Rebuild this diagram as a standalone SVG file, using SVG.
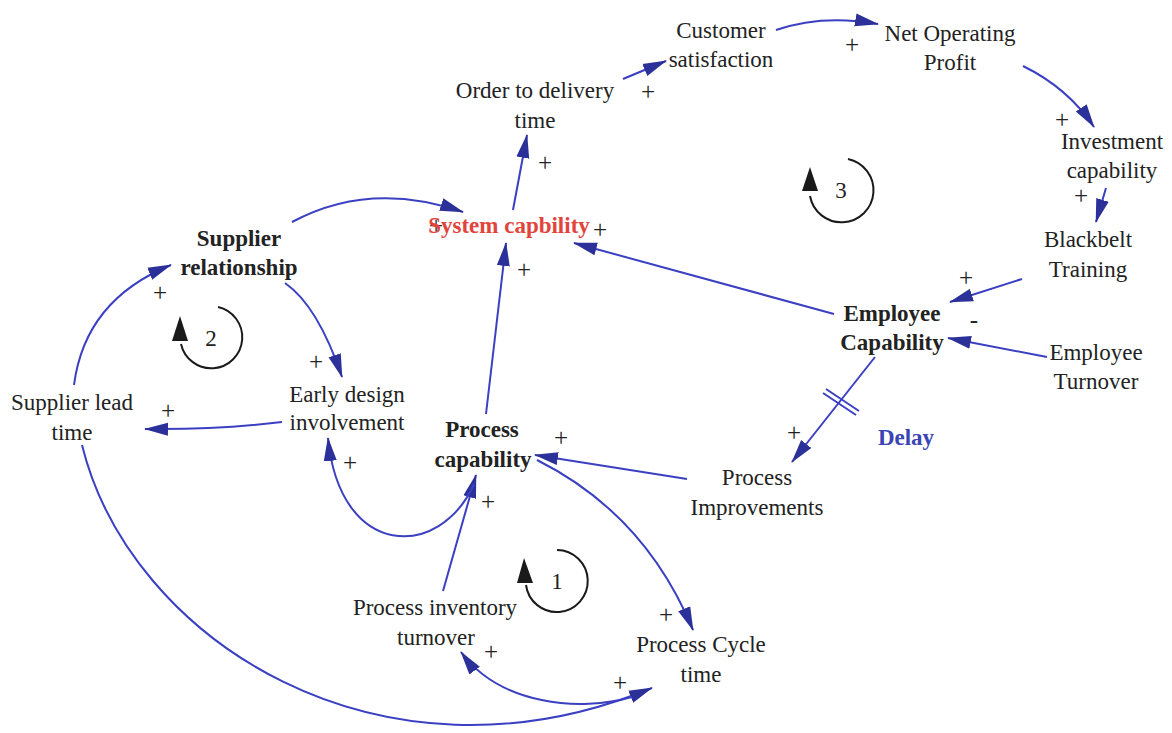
<svg xmlns="http://www.w3.org/2000/svg" width="1172" height="733" viewBox="0 0 1172 733">
  <style>
    .lbl { font-family: "Liberation Serif", "Times New Roman", serif; font-size: 23px; fill: #222; text-anchor: middle; }
    .b { font-weight: bold; }
    .red { fill: #e2443c; }
    .delay { fill: #3a44b4; }
    .pol { font-family: "Liberation Serif", "Times New Roman", serif; font-size: 25px; fill: #222; text-anchor: middle; }
    .num { font-family: "Liberation Serif", "Times New Roman", serif; font-size: 23px; fill: #222; text-anchor: middle; }
    .link { fill: none; stroke: #3b40c2; stroke-width: 2; marker-end: url(#head); }
    .tick { fill: none; stroke: #3b40c2; stroke-width: 2; }
    .loop { fill: none; stroke: #1a1a1a; stroke-width: 2; }
    .loophead { fill: #1a1a1a; }
  </style>
  <defs>
    <marker id="head" markerUnits="userSpaceOnUse" markerWidth="24" markerHeight="16" viewBox="0 0 24 16" refX="23" refY="8" orient="auto">
      <path d="M0,1.5 L24,8 L0,14.5 z" fill="#2b3199"/>
    </marker>
  </defs>
  <rect width="1172" height="733" fill="#ffffff"/>

  <!-- causal links -->
  <g id="connectors">
    <path class="link" d="M623,79 L666,61"/>
    <path class="link" d="M776,30 Q822,14 878,24"/>
    <path class="link" d="M1023,66 Q1068,88 1094,127"/>
    <path class="link" d="M1106,188 L1096,222"/>
    <path class="link" d="M1022,279 L950,302"/>
    <path class="link" d="M1047,357 L948,338"/>
    <path class="link" d="M834,314 L574,243"/>
    <path class="link" d="M875,357 L792,462"/>
    <path class="link" d="M687,479 L535,455"/>
    <path class="link" d="M537,460 Q645,514 693,630"/>
    <path class="link" d="M486,414 L506,243"/>
    <path class="link" d="M443,591 L476,475"/>
    <path class="link" d="M474,484 C440,560 340,560 328,438"/>
    <path class="link" d="M282,422 Q215,430 145,429"/>
    <path class="link" d="M74,385 Q85,300 171,265"/>
    <path class="link" d="M285,283 Q318,306 342,377"/>
    <path class="link" d="M292,222 Q370,180 463,212"/>
    <path class="link" d="M513,210 L527,135"/>
    <path class="link" d="M82,445 C130,640 380,800 652,688"/>
    <path class="link" d="M632,697 C580,712 500,705 461,652"/>
    <!-- delay mark on Employee Capability -> Process Improvements -->
    <path class="tick" d="M826,389 L859,411 M823,393 L856,415"/>
  </g>

  <!-- link polarities -->
  <g id="polarities">
    <text class="pol" x="648" y="100">+</text>
    <text class="pol" x="545" y="171">+</text>
    <text class="pol" x="852" y="53">+</text>
    <text class="pol" x="1062" y="128">+</text>
    <text class="pol" x="1081" y="204">+</text>
    <text class="pol" x="966" y="286">+</text>
    <text class="pol" x="974" y="328">-</text>
    <text class="pol" x="600" y="238">+</text>
    <text class="pol" x="436" y="234">+</text>
    <text class="pol" x="524" y="278">+</text>
    <text class="pol" x="561" y="446">+</text>
    <text class="pol" x="794" y="441">+</text>
    <text class="pol" x="488" y="510">+</text>
    <text class="pol" x="350" y="471">+</text>
    <text class="pol" x="316" y="370">+</text>
    <text class="pol" x="168" y="419">+</text>
    <text class="pol" x="160" y="301">+</text>
    <text class="pol" x="666" y="623">+</text>
    <text class="pol" x="491" y="660">+</text>
    <text class="pol" x="620" y="691">+</text>
  </g>

  <!-- loop markers -->
  <g id="loop1">
    <path class="loop" d="M557,550 A31,31 0 1 1 526,585"/>
    <polygon class="loophead" points="524,558 533,583 517,583"/>
    <text class="num" x="557" y="589">1</text>
  </g>
  <g id="loop2">
    <path class="loop" d="M218,307 A31,31 0 1 1 181,344"/>
    <polygon class="loophead" points="180,316 188,341 172,341"/>
    <text class="num" x="211" y="346">2</text>
  </g>
  <g id="loop3">
    <path class="loop" d="M848,159 A32,32 0 1 1 810,196"/>
    <polygon class="loophead" points="810,167 818,191 802,191"/>
    <text class="num" x="841" y="198">3</text>
  </g>

  <!-- variables -->
  <g id="customer-satisfaction">
    <text class="lbl" x="721" y="38">Customer</text>
    <text class="lbl" x="721" y="67">satisfaction</text>
  </g>
  <g id="order-to-delivery-time">
    <text class="lbl" x="535" y="98">Order to delivery</text>
    <text class="lbl" x="535" y="128">time</text>
  </g>
  <g id="net-operating-profit">
    <text class="lbl" x="950" y="41">Net Operating</text>
    <text class="lbl" x="950" y="70">Profit</text>
  </g>
  <g id="investment-capability">
    <text class="lbl" x="1112" y="149">Investment</text>
    <text class="lbl" x="1112" y="178">capability</text>
  </g>
  <g id="blackbelt-training">
    <text class="lbl" x="1088" y="247">Blackbelt</text>
    <text class="lbl" x="1088" y="277">Training</text>
  </g>
  <g id="employee-capability">
    <text class="lbl b" x="892" y="321">Employee</text>
    <text class="lbl b" x="892" y="350">Capability</text>
  </g>
  <g id="employee-turnover">
    <text class="lbl" x="1096" y="360">Employee</text>
    <text class="lbl" x="1096" y="389">Turnover</text>
  </g>
  <g id="delay-label">
    <text class="lbl b delay" x="906" y="445">Delay</text>
  </g>
  <g id="process-improvements">
    <text class="lbl" x="757" y="485">Process</text>
    <text class="lbl" x="757" y="515">Improvements</text>
  </g>
  <g id="process-capability">
    <text class="lbl b" x="482" y="437">Process</text>
    <text class="lbl b" x="483" y="467">capability</text>
  </g>
  <g id="system-capability">
    <text class="lbl b red" x="509" y="233">System capbility</text>
  </g>
  <g id="supplier-relationship">
    <text class="lbl b" x="239" y="246">Supplier</text>
    <text class="lbl b" x="239" y="275">relationship</text>
  </g>
  <g id="supplier-lead-time">
    <text class="lbl" x="72" y="410">Supplier lead</text>
    <text class="lbl" x="72" y="440">time</text>
  </g>
  <g id="early-design-involvement">
    <text class="lbl" x="347" y="402">Early design</text>
    <text class="lbl" x="347" y="430">involvement</text>
  </g>
  <g id="process-inventory-turnover">
    <text class="lbl" x="435" y="615">Process inventory</text>
    <text class="lbl" x="436" y="645">turnover</text>
  </g>
  <g id="process-cycle-time">
    <text class="lbl" x="701" y="652">Process Cycle</text>
    <text class="lbl" x="701" y="682">time</text>
  </g>
</svg>
